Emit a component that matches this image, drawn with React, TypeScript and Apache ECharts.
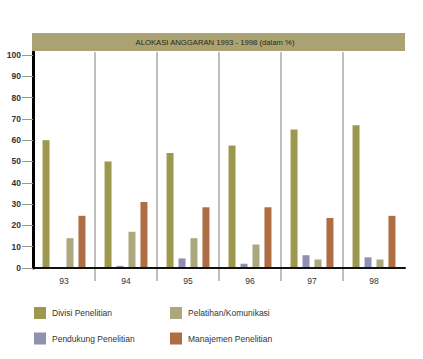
import React, { useEffect, useRef } from "react";
import * as echarts from "echarts";

const categories = ["93", "94", "95", "96", "97", "98"];
const divisiPenelitian = [60, 50, 54, 57.5, 65, 67];
const pendukungPenelitian = [0, 1, 4.5, 2, 6, 5];
const pelatihanKomunikasi = [14, 17, 14, 11, 4, 4];
const manajemenPenelitian = [24.5, 31, 28.5, 28.5, 23.5, 24.5];
const yTicks = [0, 10, 20, 30, 40, 50, 60, 70, 80, 90, 100];
const separators = [1, 2, 3, 4, 5];
const titleText = "ALOKASI ANGGARAN 1993 - 1998 (dalam %)";

const FONT = "'Liberation Sans', Arial, sans-serif";

export default function App() {
  const ref = useRef<HTMLDivElement>(null);
  useEffect(() => {
    if (!ref.current) return;
    const chart = echarts.init(ref.current, null, { renderer: "svg" });
    const mk = (name: string, data: number[], color: string) => ({
      name,
      type: "bar",
      data,
      xAxisIndex: 0,
      barWidth: 7,
      barGap: "71%",
      itemStyle: { color },
    });
    chart.setOption({
      animation: false,
      backgroundColor: "#ffffff",
      textStyle: { fontFamily: FONT },
      graphic: [
        {
          type: "rect",
          shape: { x: 32, y: 33, width: 373, height: 18 },
          style: { fill: "#aaa272" },
          z: 10,
        },
        {
          type: "text",
          x: 215,
          y: 42,
          style: {
            text: titleText,
            fill: "#2a2a1a",
            font: `7.7px ${FONT}`,
            textAlign: "center",
            textVerticalAlign: "middle",
          },
          z: 11,
        },
      ],
      grid: { left: 33, right: 18, top: 52, bottom: 91, containLabel: false },
      xAxis: [
        {
          type: "category",
          data: categories,
          boundaryGap: true,
          axisLine: { show: true, onZero: false, lineStyle: { color: "#111", width: 2 } },
          axisTick: { show: false },
          axisLabel: { color: "#333", fontSize: 8.5, fontFamily: FONT, margin: 8 },
          splitLine: { show: false },
          z: 3,
        },
        {
          type: "value",
          min: 0,
          max: categories.length,
          position: "bottom",
          axisLine: { show: false },
          axisTick: {
            show: true,
            length: 13,
            customValues: separators,
            lineStyle: { color: "#aaaaaa", width: 1.5 },
          },
          axisLabel: { show: false, customValues: separators },
          splitLine: { show: true, lineStyle: { color: "#aaaaaa", width: 1.5 } },
        },
      ],
      yAxis: {
        type: "value",
        min: 0,
        max: 101.4,
        axisLine: { show: true, lineStyle: { color: "#000", width: 3 } },
        axisTick: {
          show: true,
          length: 11,
          customValues: yTicks,
          lineStyle: { color: "#999" },
        },
        axisLabel: {
          customValues: yTicks,
          color: "#333",
          fontSize: 8.5,
          fontWeight: "bold",
          fontFamily: FONT,
          margin: 12,
        },
        splitLine: { show: false },
        z: 4,
      },
      legend: [
        {
          left: 34,
          top: 307,
          orient: "vertical",
          itemWidth: 12,
          itemHeight: 12,
          itemGap: 13.5,
          icon: "rect",
          data: ["Divisi Penelitian", "Pendukung Penelitian"],
          textStyle: { color: "#333", fontSize: 8.5, fontFamily: FONT, padding: [0, 0, 0, 1] },
          padding: 0,
        },
        {
          left: 170,
          top: 307,
          orient: "vertical",
          itemWidth: 12,
          itemHeight: 12,
          itemGap: 13.5,
          icon: "rect",
          data: ["Pelatihan/Komunikasi", "Manajemen Penelitian"],
          textStyle: { color: "#333", fontSize: 8.5, fontFamily: FONT, padding: [0, 0, 0, 1] },
          padding: 0,
        },
      ],
      series: [
        mk("Divisi Penelitian", divisiPenelitian, "#9c994f"),
        mk("Pendukung Penelitian", pendukungPenelitian, "#9090b0"),
        mk("Pelatihan/Komunikasi", pelatihanKomunikasi, "#aca87e"),
        mk("Manajemen Penelitian", manajemenPenelitian, "#ae6d43"),
      ],
    });
    return () => chart.dispose();
  }, []);
  return (
    <div
      ref={ref}
      style={{ position: "absolute", left: 0, top: 0, width: 423, height: 359 }}
    />
  );
}
